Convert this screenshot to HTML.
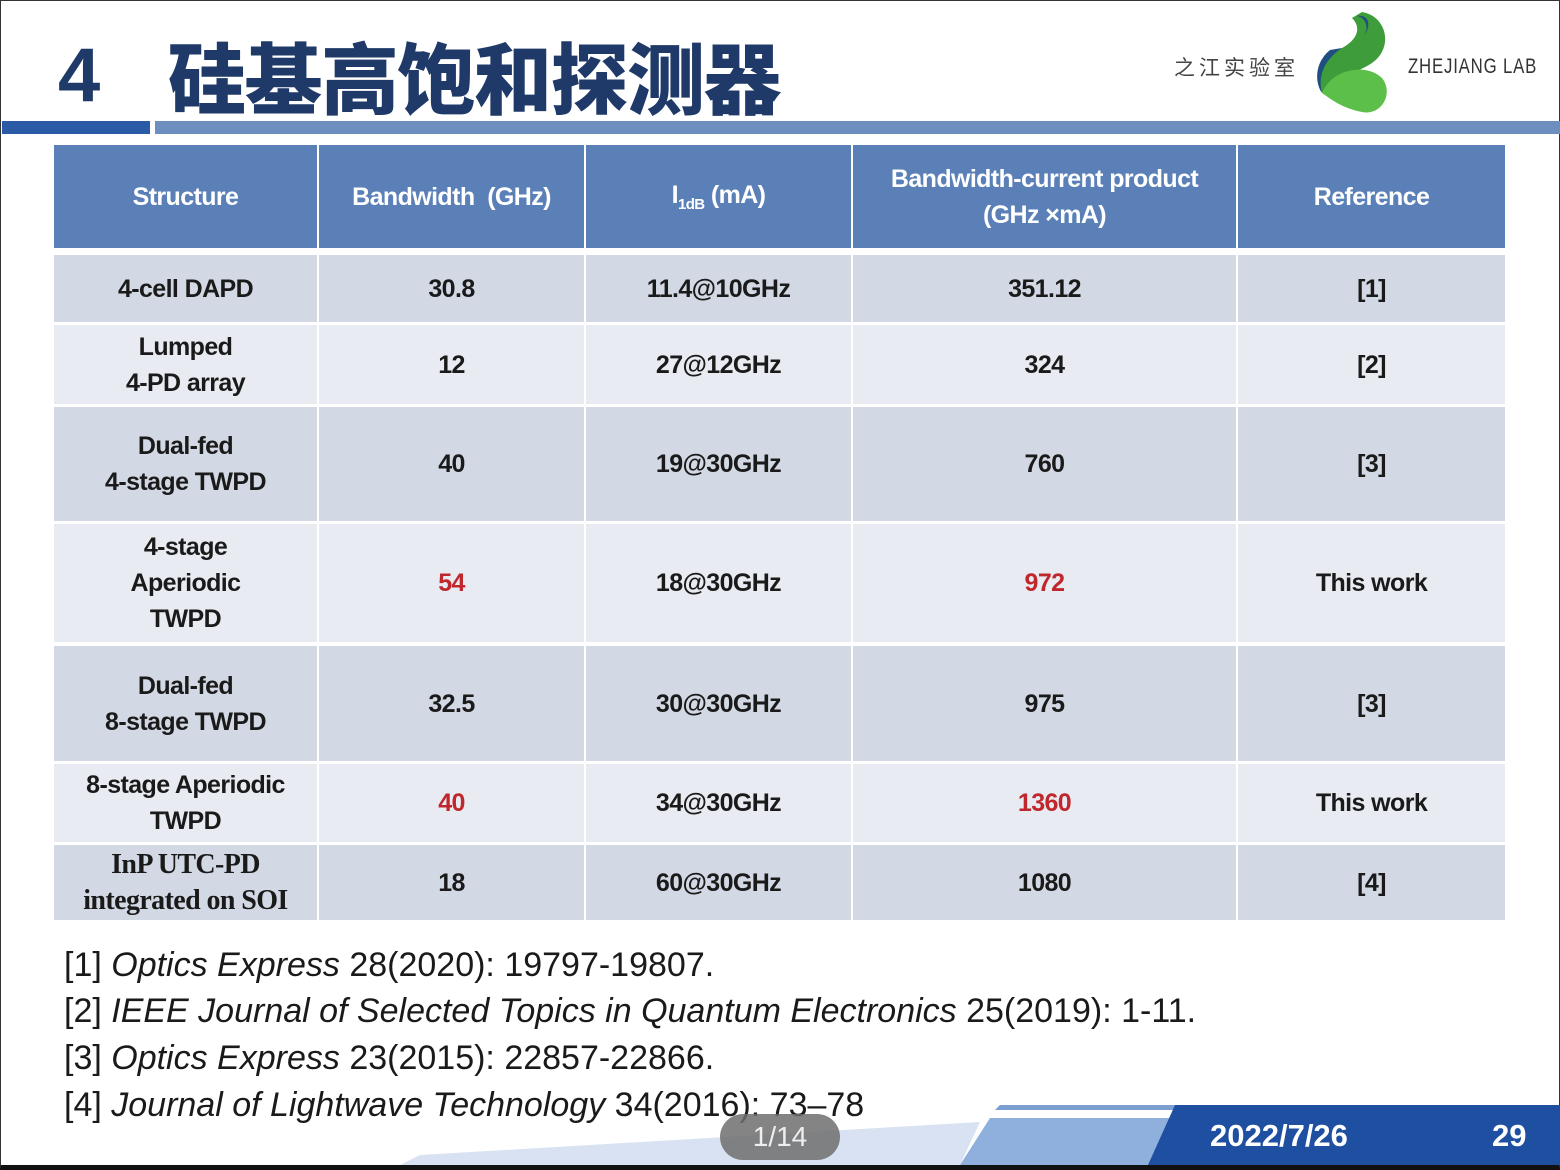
<!DOCTYPE html>
<html><head><meta charset="utf-8">
<style>
body{margin:0;width:1560px;height:1170px;overflow:hidden;background:#fff;position:relative;font-family:"Liberation Sans","Noto Sans CJK SC",sans-serif}
.abs{position:absolute}
.cell{position:absolute;display:flex;align-items:center;justify-content:center;text-align:center;font-weight:bold;font-size:25px;letter-spacing:-0.6px;line-height:36px;color:#1a1a1a;box-sizing:border-box}
.hd{background:#5b80b8;color:#fff}
.red{color:#c0272d}
.ref{position:absolute;left:64px;font-size:34px;color:#1a1a1a;letter-spacing:0px;white-space:nowrap}
.ref i{font-style:italic}
</style></head><body>
<div class="abs" style="left:0;top:0;width:1558px;height:1164px;border:1px solid #333;border-bottom:5px solid #111"></div>
<div class="abs" style="left:58px;top:32px;font-size:76px;font-weight:bold;color:#1f3a68">4</div>
<div class="abs" style="left:168px;top:30px;font-size:78px;font-weight:900;color:#1f3a68;font-family:'Noto Sans CJK SC',sans-serif;line-height:90px;letter-spacing:-1.5px;white-space:nowrap">硅基高饱和探测器</div>
<div class="abs" style="left:1174px;top:52px;font-size:21px;color:#444;letter-spacing:4px;font-family:'Noto Sans CJK SC',sans-serif">之江实验室</div>
<svg class="abs" style="left:1312px;top:8px" width="82" height="110" viewBox="0 0 82 110">
<path d="M50 4 C75 8 82 40 60 55 C40 68 20 70 10 85 C5 70 10 50 30 40 C45 32 50 20 40 10 Z" fill="#3f9c3a"/>
<path d="M10 85 C20 60 55 55 70 70 C82 85 70 108 50 104 C30 100 20 92 10 85 Z" fill="#5cbf4a"/>
<path d="M30 40 C15 50 5 65 10 85 C3 75 2 55 18 42 Z" fill="#1e4f80"/>
<path d="M45 8 C55 10 58 22 50 30 C60 20 58 6 45 8Z" fill="#1e4f80"/>
</svg>
<div class="abs" style="left:1408px;top:55px;font-size:21px;color:#333;letter-spacing:1px;white-space:nowrap;transform:scaleX(0.8);transform-origin:left">ZHEJIANG LAB</div>
<div class="abs" style="left:2px;top:121px;width:148px;height:13px;background:#2b5aa6"></div>
<div class="abs" style="left:155px;top:121px;width:1405px;height:13px;background:#6d8fc0"></div>

<div id="table"></div>

<div class="ref" style="top:946px">[1] <i>Optics Express</i> 28(2020): 19797-19807.</div>
<div class="ref" style="top:992px">[2] <i>IEEE Journal of Selected Topics in Quantum Electronics</i> 25(2019): 1-11.</div>
<div class="ref" style="top:1039px">[3] <i>Optics Express</i> 23(2015): 22857-22866.</div>
<div class="ref" style="top:1086px">[4] <i>Journal of Lightwave Technology</i> 34(2016): 73–78</div>

<svg class="abs" style="left:0;top:1100px" width="1560" height="65">
<polygon points="1000,5 1560,5 1560,10 995,10" fill="#7a9fd0"/>
<polygon points="990,18 1180,18 1160,65 960,65" fill="#8fb0dc"/>
<polygon points="420,55 980,22 960,65 400,65" fill="#c8d6ec" opacity="0.7"/>
<polygon points="1175,5 1560,5 1560,65 1148,65" fill="#1f4fa0"/>
</svg>
<div class="abs" style="left:1210px;top:1118px;font-size:31px;font-weight:bold;color:#fff">2022/7/26</div>
<div class="abs" style="left:1492px;top:1118px;font-size:31px;font-weight:bold;color:#fff">29</div>
<div class="abs" style="left:720px;top:1114px;width:120px;height:46px;border-radius:23px;background:rgba(110,110,110,0.85);color:#eee;font-size:28px;text-align:center;line-height:46px">1/14</div>

<script>
const colX=[53,318,585,852,1237,1506];
const headers=["Structure","Bandwidth&nbsp;&nbsp;(GHz)","<span>I<span style='font-size:15px;position:relative;top:6px'>1dB</span> (mA)</span>","Bandwidth-current product<br>(GHz ×mA)","Reference"];
const rowY=[[255,322],[325,404],[407,521],[524,642],[646,761],[764,842],[845,920]];
const structures=["4-cell DAPD","Lumped<br>4-PD array","Dual-fed<br>4-stage TWPD","4-stage<br>Aperiodic<br>TWPD","Dual-fed<br>8-stage TWPD","8-stage Aperiodic<br>TWPD","InP UTC-PD<br>integrated on SOI"];
const bandwidths=["30.8","12","40","54","32.5","40","18"];
const currents=["11.4@10GHz","27@12GHz","19@30GHz","18@30GHz","30@30GHz","34@30GHz","60@30GHz"];
const products=["351.12","324","760","972","975","1360","1080"];
const refs=["[1]","[2]","[3]","This work","[3]","This work","[4]"];
const t=document.getElementById('table');
function mk(x0,x1,y0,y1,html,cls,bg){
  const d=document.createElement('div');
  d.className='cell '+cls;
  d.style.left=(x0+1)+'px';d.style.width=(x1-x0-2)+'px';
  d.style.top=y0+'px';d.style.height=(y1-y0)+'px';
  if(bg)d.style.background=bg;
  d.innerHTML=html;t.appendChild(d);return d;
}
headers.forEach((h,i)=>{
  const d=mk(colX[i],colX[i+1],145,248,h,'hd');
  
  
});
rowY.forEach((r,j)=>{
  const bg=j%2===0?'#d3d9e4':'#e8ebf1';
  const vals=[structures[j],bandwidths[j],currents[j],products[j],refs[j]];
  vals.forEach((v,i)=>{
    let cls='';
    if(refs[j]==='This work'&&(i===1||i===3))cls='red';
    const d=mk(colX[i],colX[i+1],r[0],r[1],v,cls,bg);
    if(j===6&&i===0){d.style.fontFamily='"Liberation Serif",serif';d.style.fontSize='28px';}
    
    
  });
});
</script>
</body></html>
